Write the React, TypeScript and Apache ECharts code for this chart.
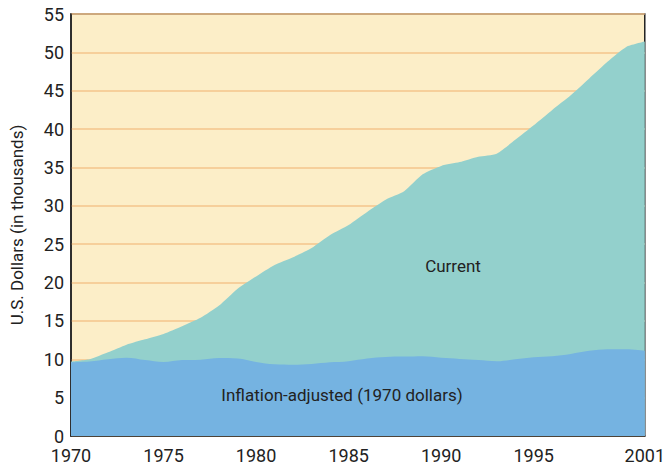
import React, { useEffect, useRef } from "react";
import * as echarts from "echarts";

const years = [
  1970, 1971, 1972, 1973, 1974, 1975, 1976, 1977, 1978, 1979,
  1980, 1981, 1982, 1983, 1984, 1985, 1986, 1987, 1988, 1989,
  1990, 1991, 1992, 1993, 1994, 1995, 1996, 1997, 1998, 1999,
  2000, 2001,
];
const currentValues = [
  9.7, 10.0, 10.9, 11.9, 12.6, 13.3, 14.3, 15.4, 17.0, 19.2,
  20.8, 22.3, 23.3, 24.5, 26.2, 27.5, 29.2, 30.8, 31.9, 34.1,
  35.2, 35.7, 36.4, 36.8, 38.6, 40.5, 42.5, 44.4, 46.6, 48.8,
  50.7, 51.4,
];
const inflationValues = [
  9.6, 9.7, 10.0, 10.2, 9.9, 9.65, 9.9, 9.95, 10.15, 10.1,
  9.65, 9.35, 9.3, 9.4, 9.6, 9.75, 10.1, 10.3, 10.35, 10.4,
  10.2, 10.05, 9.9, 9.75, 10.0, 10.25, 10.4, 10.7, 11.1, 11.3,
  11.3, 11.1,
];
const xLabelValues = [1970, 1975, 1980, 1985, 1990, 1995, 2001];
const xTickValues = [1975, 1980, 1985, 1990, 1995];
const yAxisTitle = "U.S. Dollars (in thousands)";
const currentLabel = "Current";
const inflationLabel = "Inflation-adjusted (1970 dollars)";

const FONT = "Roboto, 'Noto Sans', sans-serif";

export default function App() {
  const ref = useRef<HTMLDivElement>(null);
  useEffect(() => {
    document.body.style.margin = "0";
    if (!ref.current) return;
    const chart = echarts.init(ref.current, undefined, { renderer: "svg" });
    chart.setOption({
      animation: false,
      grid: {
        left: 70,
        right: 20,
        top: 14,
        bottom: 30,
        show: true,
        backgroundColor: "#FCEEC8",
        borderColor: "#222",
        borderWidth: 1.5,
      },
      xAxis: {
        type: "value",
        min: 1970,
        max: 2001,
        interval: 5,
        axisLine: { show: true, lineStyle: { color: "#222", width: 1.5 } },
        axisTick: {
          show: true,
          inside: true,
          length: 10,
          customValues: xTickValues,
          lineStyle: { color: "#222", width: 1.5 },
        },
        axisLabel: {
          customValues: xLabelValues,
          color: "#222",
          fontSize: 18,
          fontFamily: FONT,
          margin: 10,
          formatter: (v: number) => String(v),
        },
        splitLine: { show: false },
      },
      yAxis: {
        type: "value",
        min: 0,
        max: 55,
        interval: 5,
        name: yAxisTitle,
        nameLocation: "middle",
        nameGap: 46,
        nameTextStyle: { color: "#222", fontSize: 17, fontFamily: FONT },
        axisLine: { show: true, lineStyle: { color: "#222", width: 1.5 } },
        axisTick: { show: false },
        axisLabel: {
          color: "#222",
          fontSize: 18,
          fontFamily: FONT,
          margin: 7,
          padding: [0, 0, 5, 0],
        },
        splitLine: { show: true, lineStyle: { color: "#F4C48C", width: 1.5 } },
      },
      series: [
        {
          type: "line",
          name: "Current",
          data: years.map((y, i) => [y, currentValues[i]]),
          symbol: "none",
          smooth: 0.2,
          lineStyle: { width: 0 },
          areaStyle: { color: "#93D0CC", opacity: 1 },
          z: 2,
        },
        {
          type: "line",
          name: "Inflation-adjusted",
          data: years.map((y, i) => [y, inflationValues[i]]),
          symbol: "none",
          smooth: 0.35,
          lineStyle: { width: 0 },
          areaStyle: { color: "#75B3E1", opacity: 1 },
          z: 3,
        },
      ],
      graphic: [
        {
          type: "text",
          x: 453,
          y: 266,
          z: 10,
          style: {
            text: currentLabel,
            fill: "#222",
            fontSize: 17,
            fontFamily: FONT,
            textAlign: "center",
            textVerticalAlign: "middle",
          },
        },
        {
          type: "text",
          x: 342,
          y: 395,
          z: 10,
          style: {
            text: inflationLabel,
            fill: "#222",
            fontSize: 17,
            fontFamily: FONT,
            textAlign: "center",
            textVerticalAlign: "middle",
          },
        },
      ],
    });
    return () => chart.dispose();
  }, []);
  return <div ref={ref} style={{ width: 668, height: 466 }} />;
}
